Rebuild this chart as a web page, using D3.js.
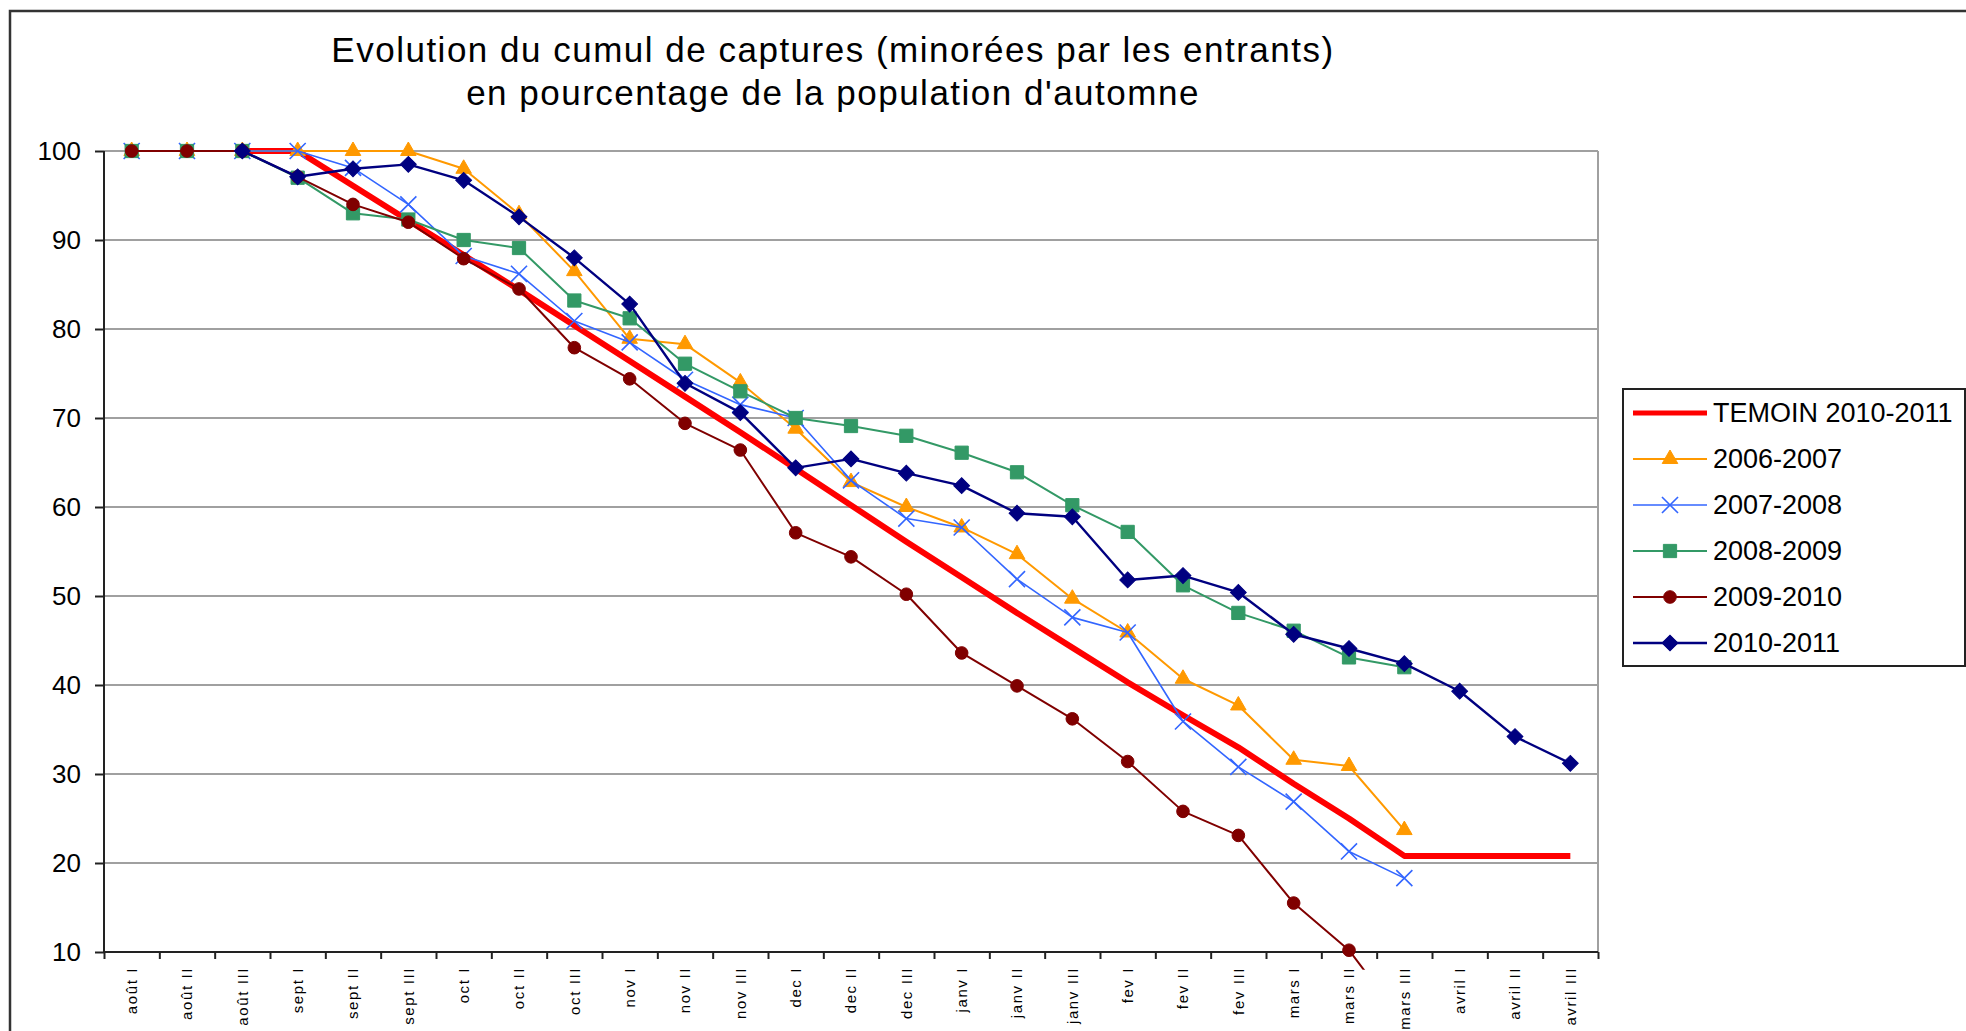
<!DOCTYPE html>
<html>
<head>
<meta charset="utf-8">
<script src="https://cdn.jsdelivr.net/npm/d3@7"></script>
<style>
  body { margin: 0; background: #fff; }
  text { font-family: "Liberation Sans", Arial, sans-serif; fill: #000; }
</style>
</head>
<body>
<div id="chart"></div>
<script>
// categories (decades of each month)
let categories = ["août I", "août II", "août III", "sept I", "sept II", "sept III",
    "oct I", "oct II", "oct III", "nov I", "nov II", "nov III",
    "dec I", "dec II", "dec III", "janv I", "janv II", "janv III",
    "fev I", "fev II", "fev III", "mars I", "mars II", "mars III",
    "avril I", "avril II", "avril III"];

let yTicks = [10, 20, 30, 40, 50, 60, 70, 80, 90, 100];

let temoin = [null, null, 100, 100, 96.1, 92.2, 88.3, 84.4, 80.4, 76.4, 72.4, 68.4,
    64.3, 60.2, 56.1, 52.1, 48.1, 44.2, 40.3, 36.6, 33.0, 28.9, 25.0, 20.8, 20.8, 20.8, 20.8];
let s2006 = [100, 100, 100, 100, 100, 100, 98.0, 92.9, 86.5, 78.9, 78.3, 74.0,
    68.8, 62.8, 60.0, 57.7, 54.7, 49.7, 45.9, 40.7, 37.7, 31.6, 30.9, 23.7, null, null, null];
let s2007 = [100, 100, 100, 100, 98.1, 94.0, 88.2, 86.2, 80.9, 78.5, 74.3, 71.5,
    70.0, 63.0, 58.7, 57.7, 51.9, 47.6, 45.9, 35.9, 30.8, 26.9, 21.3, 18.3, null, null, null];
let s2008 = [100, 100, 100, 97.0, 93.0, 92.3, 90.0, 89.1, 83.2, 81.2, 76.1, 73.0,
    70.0, 69.1, 68.0, 66.1, 63.9, 60.2, 57.2, 51.2, 48.1, 46.1, 43.1, 42.0, null, null, null];
let s2009 = [100, 100, 100, 97.1, 94.0, 92.0, 87.9, 84.5, 77.9, 74.4, 69.4, 66.4,
    57.1, 54.4, 50.2, 43.6, 39.9, 36.2, 31.4, 25.8, 23.1, 15.5, 10.2, 2, null, null, null];
let s2010 = [null, null, 100, 97.1, 98.0, 98.5, 96.7, 92.6, 88.0, 82.8, 73.9, 70.6,
    64.4, 65.4, 63.8, 62.4, 59.3, 58.9, 51.8, 52.3, 50.4, 45.7, 44.1, 42.4, 39.3, 34.2, 31.2];

let seriesNames = ["TEMOIN 2010-2011", "2006-2007", "2007-2008", "2008-2009", "2009-2010", "2010-2011"];
let seriesValues = [temoin, s2006, s2007, s2008, s2009, s2010];

let styles = [
    {color: "#ff0000", width: 6, marker: null},
    {color: "#ff9900", width: 2, marker: "triangle"},
    {color: "#3366ff", width: 1.6, marker: "x"},
    {color: "#339966", width: 2, marker: "square"},
    {color: "#800000", width: 2, marker: "circle"},
    {color: "#000080", width: 2.4, marker: "diamond"}
];

let W = 1966, H = 1031;
let plot = {left: 104, right: 1598, top: 151, bottom: 952};

let svg = d3.select("#chart").append("svg")
    .attr("width", W)
    .attr("height", H);

svg.append("rect").attr("width", W).attr("height", H).attr("fill", "#fff");

// outer chart frame (cut by the picture on the right and bottom)
svg.append("rect")
    .attr("x", 10).attr("y", 11)
    .attr("width", W + 50).attr("height", H + 50)
    .attr("fill", "none")
    .attr("stroke", "#333")
    .attr("stroke-width", 2.5);

// title
let title = svg.append("text")
    .attr("text-anchor", "middle")
    .style("font-size", "35px")
    .style("letter-spacing", "1.5px");
title.append("tspan").attr("x", 833).attr("y", 62)
    .text("Evolution du cumul de captures (minorées par les entrants)");
title.append("tspan").attr("x", 833).attr("y", 105)
    .text("en pourcentage de la population d'automne");

let x = d3.scaleBand().domain(categories).range([plot.left, plot.right]);
let xEdge = d3.scaleLinear().domain([0, categories.length]).range([plot.left, plot.right]);
let y = d3.scaleLinear().domain([10, 100]).range([plot.bottom, plot.top]);
let cx = (i) => x(categories[i]) + x.bandwidth() / 2;

// gridlines
svg.append("g").selectAll("line")
    .data(yTicks.filter(t => t > 10))
    .enter().append("line")
    .attr("x1", plot.left).attr("x2", plot.right)
    .attr("y1", d => y(d)).attr("y2", d => y(d))
    .attr("stroke", "#a0a0a0")
    .attr("stroke-width", 2);

svg.append("line")
    .attr("x1", plot.right).attr("x2", plot.right)
    .attr("y1", plot.top).attr("y2", plot.bottom)
    .attr("stroke", "#a0a0a0")
    .attr("stroke-width", 2);

// y axis
let yAxis = svg.append("g")
    .attr("transform", "translate(" + plot.left + ",0)")
    .call(d3.axisLeft(y).tickValues(yTicks).tickSize(9).tickPadding(14));
yAxis.selectAll("text").style("font-size", "26px").attr("font-family", null);
yAxis.selectAll("line, path").attr("stroke", "#222").attr("stroke-width", 2);
yAxis.select("path").attr("d", "M0," + y(100) + "V" + y(10));

// x axis, ticks sit between categories
let xAxis = svg.append("g")
    .attr("transform", "translate(0," + plot.bottom + ")")
    .call(d3.axisBottom(xEdge).tickValues(d3.range(categories.length + 1)).tickSize(7).tickFormat(""));
xAxis.selectAll("line, path").attr("stroke", "#222").attr("stroke-width", 2);
xAxis.select("path").attr("d", "M" + plot.left + ",0H" + plot.right);

svg.append("g").selectAll("text")
    .data(categories)
    .enter().append("text")
    .attr("transform", (d, i) => "translate(" + cx(i) + "," + (plot.bottom + 15) + ") rotate(-90)")
    .attr("text-anchor", "end")
    .attr("dy", "0.35em")
    .style("font-size", "15px")
    .style("letter-spacing", "1.6px")
    .text(d => d);

// clip lines to the plot (with a little room below the axis)
svg.append("clipPath").attr("id", "plotclip")
    .append("rect")
    .attr("x", plot.left).attr("y", plot.top - 10)
    .attr("width", plot.right - plot.left + 10)
    .attr("height", y(8) - plot.top + 10);

let markerPath = (type) => {
    if (type === "triangle") return d3.symbol(d3.symbolTriangle, 105)();
    if (type === "x") return d3.symbol(d3.symbolTimes, 170)();
    if (type === "square") return d3.symbol(d3.symbolSquare, 175)();
    if (type === "circle") return d3.symbol(d3.symbolCircle, 125)();
    if (type === "diamond") return d3.symbol(d3.symbolSquare, 125)();
    return null;
};

let drawMarker = (sel, st) => {
    sel.append("path")
        .attr("d", markerPath(st.marker))
        .attr("transform", st.marker === "diamond" ? "rotate(45)" : null)
        .attr("fill", st.marker === "x" ? "none" : st.color)
        .attr("stroke", st.color)
        .attr("stroke-width", st.marker === "x" ? 1.6 : 1);
};

let line = d3.line()
    .defined(d => d[1] !== null)
    .x(d => cx(d[0]))
    .y(d => y(d[1]));

seriesValues.forEach((vals, k) => {
    let st = styles[k];
    let pts = vals.map((v, i) => [i, v]);
    let g = svg.append("g").attr("class", "series");
    g.append("path")
        .datum(pts)
        .attr("clip-path", "url(#plotclip)")
        .attr("fill", "none")
        .attr("stroke", st.color)
        .attr("stroke-width", st.width)
        .attr("stroke-linejoin", "round")
        .attr("d", line);
    if (st.marker) {
        g.selectAll("g.pt")
            .data(pts.filter(d => d[1] !== null && d[1] >= 10))
            .enter().append("g")
            .attr("class", "pt")
            .attr("transform", d => "translate(" + cx(d[0]) + "," + y(d[1]) + ")")
            .each(function () { drawMarker(d3.select(this), st); });
    }
});

// legend
let legend = svg.append("g");
legend.append("rect")
    .attr("x", 1623).attr("y", 389)
    .attr("width", 342).attr("height", 277)
    .attr("fill", "#fff")
    .attr("stroke", "#222")
    .attr("stroke-width", 2);

let legendY = d3.scalePoint().domain(seriesNames).range([413, 643]);

seriesNames.forEach((name, k) => {
    let st = styles[k];
    let ly = legendY(name);
    legend.append("line")
        .attr("x1", 1633).attr("x2", 1707)
        .attr("y1", ly).attr("y2", ly)
        .attr("stroke", st.color)
        .attr("stroke-width", st.width === 6 ? 5 : st.width);
    if (st.marker) {
        let m = legend.append("g").attr("transform", "translate(1670," + ly + ")");
        drawMarker(m, st);
    }
    legend.append("text")
        .attr("x", 1713).attr("y", ly)
        .attr("dy", "0.35em")
        .style("font-size", "27px")
        .text(name);
});
</script>
</body>
</html>
